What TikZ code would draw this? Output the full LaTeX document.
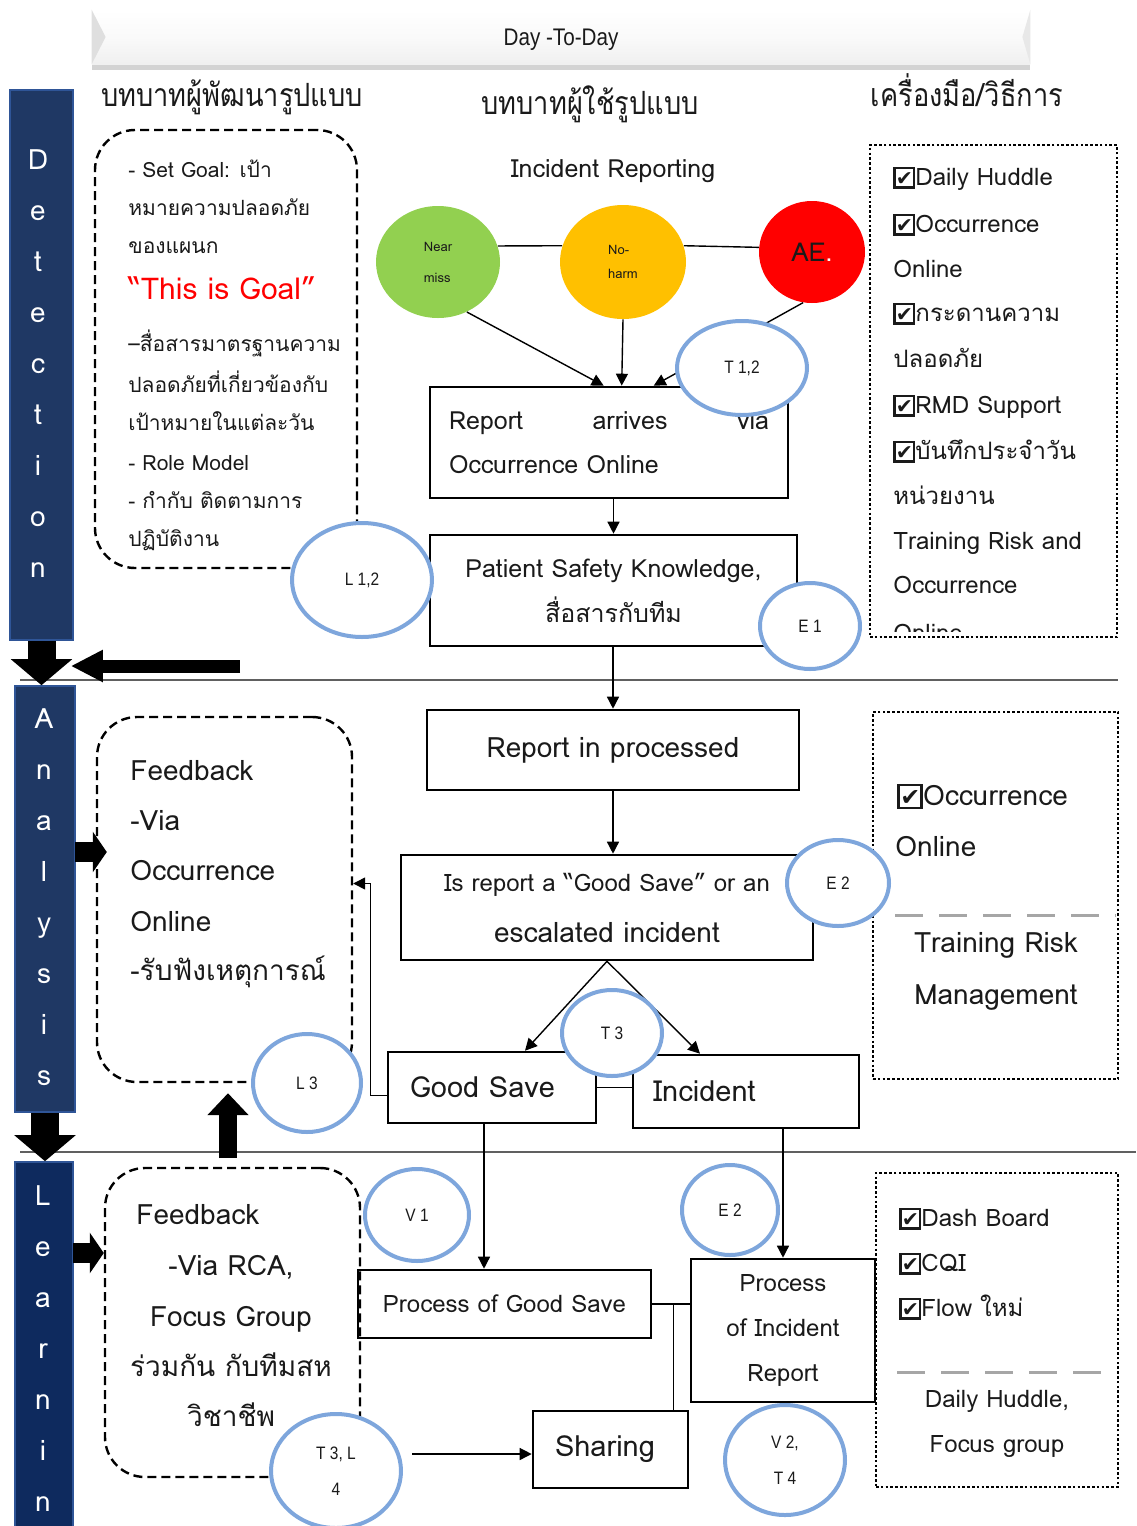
\documentclass[tikz,border=0pt]{standalone}
\usepackage{fontspec}
\setmainfont{Loma}[Script=Thai]
\newfontfamily\symfont{DejaVu Sans}
\newfontfamily\narrowfont{Liberation Sans}[FakeStretch=0.86]
\newfontfamily\titlefont{Loma}[Script=Thai,FakeStretch=0.85]
\usetikzlibrary{arrows.meta,shapes.geometric,shadows,calc}

\definecolor{navy}{HTML}{1F3864}
\definecolor{navydeep}{HTML}{0E2A5E}
\definecolor{navyrim}{HTML}{2F5597}
\definecolor{tagblue}{HTML}{7EA6DC}
\definecolor{nmgreen}{HTML}{92D050}
\definecolor{nhyellow}{HTML}{FFC000}
\definecolor{aered}{HTML}{FF0000}
\definecolor{ink}{HTML}{1A1A1A}

\newcommand{\chk}{{\setlength{\fboxrule}{0.1em}\setlength{\fboxsep}{0pt}%
  \raisebox{-0.05em}{\fbox{\makebox[0.72em]{\rule{0pt}{0.72em}\raisebox{0.04em}{\symfont\scalebox{0.85}{\char"2714}}}}}}}
\newcommand{\fs}[2]{\fontsize{#1}{#2}\selectfont}

\tikzset{
  banner/.style={minimum width=469pt,minimum height=27pt,inner sep=0pt,
    top color=white,bottom color=gray!12,middle color=gray!4,
    drop shadow={shadow xshift=0pt,shadow yshift=-3pt,opacity=.35},
    font=\narrowfont\fs{12}{14}},
  phasebar/.style={fill=navy,draw=navyrim,line width=.8pt,inner sep=0pt},
  barletter/.style={text=white,font=\fs{14}{16},anchor=mid,inner sep=0pt,yshift=-2pt},
  rolebox/.style={draw,line width=1.2pt,dash pattern=on 4.5pt off 2.5pt,rounded corners=20pt,inner sep=0pt},
  toolbox/.style={draw,line width=1.3pt,dash pattern=on 1.3pt off 1.1pt,inner sep=0pt},
  procbox/.style={draw,line width=1.3pt,inner sep=0pt,align=center},
  sevcirc/.style={ellipse,inner sep=0pt,align=left},
  tagcirc/.style={ellipse,draw=tagblue,line width=2pt,fill=white,inner sep=0pt,
    align=center,font=\narrowfont\fs{9}{18}},
  txt/.style={anchor=mid west,inner sep=0pt,yshift=-2pt},
  ctxt/.style={anchor=mid,inner sep=0pt,yshift=-2pt},
  plain/.style={line width=.7pt},
  flow/.style={line width=.7pt,-{Triangle[length=6pt,width=6pt]}},
  fatdown/.style={line width=14pt,-{Triangle[length=13pt,width=30pt]}},
  fatleft/.style={line width=6.5pt,-{Triangle[length=16pt,width=15pt]}},
  fatup/.style={line width=9pt,-{Triangle[length=11pt,width=20pt]}},
  fatside/.style={line width=10pt,-{Triangle[length=7pt,width=20pt]}},
  divider/.style={draw=gray!70,line width=1.5pt,dash pattern=on 14pt off 8pt},
  sepline/.style={draw=gray!75!black,line width=1pt}
}

\begin{document}
\begin{tikzpicture}[x=0.5pt,y=-0.5pt,font=\fs{12}{14},text=ink]
  \useasboundingbox (0,0) rectangle (1136,1526);

  % header strip
  \node[banner] (strip) at (561,37) {\raisebox{-4pt}[0pt][0pt]{Day -To-Day}};
  \fill[gray!25] (strip.north west) -- ($(strip.west)+(14,0)$) -- (strip.south west) -- cycle;
  \fill[gray!18] (strip.north east) -- ($(strip.east)+(-8,0)$) -- (strip.south east) -- cycle;

  % column heads
  \node[ctxt,font=\titlefont\fs{16}{18}] (headdev) at (232,97) {บทบาทผู้พัฒนารูปแบบ};
  \node[ctxt,font=\titlefont\fs{16}{18}] (headuser) at (590,105) {บทบาทผู้ใช้รูปแบบ};
  \node[ctxt,font=\titlefont\fs{16}{18}] (headtool) at (967,97) {เครื่องมือ/วิธีการ};

  \draw[sepline] (20,680) -- (1118,680);
  \draw[sepline] (20,1152) -- (1136,1152);

  % phase bars
  \node[phasebar,minimum width=31.5pt,minimum height=275pt] (det) at (41.5,365) {};
  \node[phasebar,minimum width=30pt,minimum height=213pt] (ana) at (45,899) {};
  \node[phasebar,minimum width=29pt,minimum height=190pt,fill=navydeep] (lea) at (44,1352) {};
  \foreach \c [count=\i] in {D,e,t,e,c,t,i,o,n}
    \node[barletter] (detl\i) at (38,{160+51*(\i-1)}) {\c};
  \foreach \c [count=\i] in {A,n,a,l,y,s,i,s}
    \node[barletter] (anal\i) at (44,{719+51*(\i-1)}) {\c};
  \foreach \c [count=\i] in {L,e,a,r,n,i,n}
    \node[barletter] (leal\i) at (43,{1196+51*(\i-1)}) {\c};

  % role boxes
  \node[rolebox,minimum width=131pt,minimum height=219pt] (goalbox) at (226,349) {};
  \node[rolebox,minimum width=127.5pt,minimum height=182.5pt] (fbana) at (224.5,899.5) {};
  \node[rolebox,minimum width=127.5pt,minimum height=154.5pt] (fblea) at (232.5,1322.5) {};

  \foreach \y/\t [count=\i] in {168/{- Set Goal: เป้า},206/{หมายความปลอดภัย},244/{ของแผนก},
      342/{–สื่อสารมาตรฐานความ},383/{ปลอดภัยที่เกี่ยวข้องกับ},421/{เป้าหมายในแต่ละวัน},
      461/{- Role Model},499/{- กำกับ ติดตามการ},537/{ปฏิบัติงาน}}
    \node[txt,font=\fs{10.5}{12}] (goal\i) at (128,\y) {\t};
  \node[txt,font=\fs{15}{17},text=aered] (goalred) at (128,290) {“This is Goal”};

  \foreach \y/\t [count=\i] in {771/{Feedback},821/{-Via},871/{Occurrence},922/{Online},971/{-รับฟังเหตุการณ์}}
    \node[txt,font=\fs{14}{16}] (fba\i) at (130,\y) {\t};

  \node[txt,font=\fs{14}{16}] (fbl0) at (136,1215) {Feedback};
  \foreach \y/\t [count=\i] in {1266/{-Via RCA,},1317/{Focus Group},1367/{ร่วมกัน กับทีมสห},1417/{วิชาชีพ}}
    \node[ctxt,font=\fs{14}{16}] (fbl\i) at (231,\y) {\t};

  % tool boxes
  \node[toolbox,minimum width=123.5pt,minimum height=246pt] (tb1) at (993.5,391) {};
  \node[toolbox,minimum width=122.5pt,minimum height=183.5pt] (tb2) at (995.5,895.5) {};
  \node[toolbox,minimum width=121pt,minimum height=157pt] (tb3) at (997,1330) {};

  \foreach \y/\t [count=\i] in {176/{\chk Daily Huddle},223/{\chk Occurrence},268/{Online},
      312/{\chk กระดานความ},358/{ปลอดภัย},404/{\chk RMD Support},450/{\chk บันทึกประจำวัน},
      495/{หน่วยงาน},540/{Training Risk and},584/{Occurrence}}
    \node[txt,font=\fs{12}{14}] (tool\i) at (893,\y) {\t};
  \begin{scope}
    \clip (870,600) rectangle (1117,631);
    \node[txt,font=\fs{12}{14}] (tool11) at (893,632) {Online};
  \end{scope}

  \node[txt,font=\fs{14}{16}] (anatool1) at (897,796) {\chk Occurrence};
  \node[txt,font=\fs{14}{16}] (anatool2) at (895,847) {Online};
  \draw[divider] (895,915) -- (1116,915);
  \node[ctxt,font=\fs{14}{16}] (anatool3) at (996,943) {Training Risk};
  \node[ctxt,font=\fs{14}{16}] (anatool4) at (996,995) {Management};

  \foreach \y/\t [count=\i] in {1217/{Dash Board},1262/{CQI},1307/{Flow ใหม่}}
    \node[txt,font=\fs{12}{14}] (leatool\i) at (899,\y) {\chk\t};
  \draw[divider] (897,1372) -- (1116,1372);
  \node[ctxt,font=\fs{12}{14}] (leatool4) at (997,1398) {Daily Huddle,};
  \node[ctxt,font=\fs{12}{14}] (leatool5) at (997,1443) {Focus group};

  % incident levels
  \node[ctxt,font=\fs{12.5}{14}] (increp) at (613,168) {Incident Reporting};
  \node[sevcirc,fill=nmgreen,minimum width=62pt,minimum height=56pt,font=\fs{6.5}{15.5}] (near) at (438,262) {Near\\miss};
  \node[sevcirc,fill=nhyellow,minimum width=63pt,minimum height=57pt,font=\fs{6.5}{12}] (noharm) at (623,262) {No-\\harm};
  \node[sevcirc,fill=aered,minimum width=53pt,minimum height=51pt,font=\fs{13}{15}] (ae) at (812,252) {AE\textcolor{white}{.}};

  % process boxes
  \node[procbox,minimum width=179pt,minimum height=55.5pt,font=\fs{12.5}{22}] (rep) at (609,442.5)
    {\makebox[160pt][s]{Report arrives via}\\\makebox[160pt][l]{Occurrence Online}};
  \node[procbox,minimum width=183.5pt,minimum height=55.5pt,font=\fs{12.5}{22.5}] (psk) at (613.5,590.5)
    {Patient Safety Knowledge,\\สื่อสารกับทีม};
  \node[procbox,minimum width=186pt,minimum height=40pt,font=\fs{14}{16}] (proc) at (613,750) {Report in processed};
  \node[procbox,minimum width=206pt,minimum height=52.5pt,font=\fs{14}{25.5}] (esc) at (607,907.5)
    {{\fs{12}{25.5}Is report a “Good Save” or an}\\escalated incident};
  \node[procbox,minimum width=104pt,minimum height=35.5pt,inner xsep=11pt,text width=82pt,align=left,font=\fs{14.5}{16}] (gsave) at (492,1087.5) {Good Save};
  \node[procbox,minimum width=113pt,minimum height=36.5pt,inner xsep=10pt,text width=93pt,align=left,font=\fs{14.5}{16}] (incid) at (746,1091.5) {Incident};
  \node[procbox,minimum width=146.5pt,minimum height=34pt,font=\fs{12}{14}] (pgs) at (504.5,1304) {Process of Good Save};
  \node[procbox,minimum width=92pt,minimum height=71.5pt,font=\fs{12}{22.5}] (pir) at (783,1330.5) {Process\\of Incident\\Report};
  \node[procbox,minimum width=77.5pt,minimum height=38.5pt,inner xsep=11pt,text width=55.5pt,align=left,font=\fs{14.5}{17}] (shar) at (610.5,1449.5) {Sharing};

  % connectors
  \draw[plain] (near.15) -- (noharm.165);
  \draw[plain] (noharm.15) -- (ae.175);
  \coordinate (in1) at ($(rep.north west)+(175,0)$);
  \coordinate (in2) at ($(rep.north west)+(193,0)$);
  \coordinate (in3) at ($(rep.north west)+(225,0)$);
  \draw[flow] (near.-60) -- (in1);
  \draw[flow] (noharm.south) -- (in2);
  \draw[flow] (ae.-100) -- (in3);
  \draw[flow] (psk.north |- rep.south) -- (psk.north);
  \draw[flow] (proc.north |- psk.south) -- (proc.north);
  \draw[flow] (proc.south) -- (proc.south |- esc.north);
  \draw[flow] (esc.south) -- ($(gsave.north)+(33,0)$);
  \draw[flow] (esc.south) -- ($(incid.north)+(-46,0)$);
  \draw[plain] (gsave.east) -- (gsave.east -| incid.west);
  \draw[flow] ($(gsave.west)+(0,8)$) -- ++(-16,0) |- ($(fbana.east)+(0,-16)$);
  \coordinate (gsout) at ($(gsave.south)+(-8,0)$);
  \draw[flow] (gsout) -- (gsout |- pgs.north);
  \draw[flow] (pir.north |- incid.south) -- (pir.north);
  \coordinate (junc) at ($(pgs.east)+(21,0)$);
  \draw[plain] (pgs.east) -- (pgs.east -| pir.west);
  \draw[plain] (junc) -- (junc |- shar.north);

  % big arrows
  \coordinate (dettail) at (240,666);
  \draw[fatdown] (det.south) -- (det.south |- ana.north);
  \draw[fatleft] (dettail) -- ($(det.east |- dettail)+(-3,0)$);
  \draw[fatdown] (ana.south) -- (ana.south |- lea.north);
  \coordinate (upfoot) at (228,1158);
  \draw[fatup] (upfoot) -- ($(upfoot |- fbana.south)+(0,10)$);
  \coordinate (anaout) at (75,852);
  \draw[fatside] (anaout) -- ($(anaout -| fbana.west)+(11,0)$);
  \coordinate (leaout) at (73,1253);
  \draw[fatside] (leaout) -- ($(leaout -| fblea.west)+(0,0)$);

  % tags
  \node[tagcirc,minimum width=70pt,minimum height=57pt] (lonetwo) at (362,580) {L 1,2};
  \node[tagcirc,minimum width=65pt,minimum height=47pt] (tonetwo) at (742,368) {T 1,2};
  \node[tagcirc,minimum width=50pt,minimum height=43pt] (eone) at (810,626) {E 1};
  \node[tagcirc,minimum width=51pt,minimum height=43pt] (etwo) at (838,883) {E 2};
  \node[tagcirc,minimum width=50pt,minimum height=43pt] (tthree) at (612,1033) {T 3};
  \node[tagcirc,minimum width=54pt,minimum height=49pt] (lthree) at (307,1083) {L 3};
  \node[tagcirc,minimum width=52pt,minimum height=46pt] (vone) at (417,1215) {V 1};
  \node[tagcirc,minimum width=48pt,minimum height=45pt] (etwob) at (730,1210) {E 2};
  \node[tagcirc,minimum width=65pt,minimum height=57pt] (tlfour) at (336,1471) {T 3, L\\4};
  \node[tagcirc,minimum width=60pt,minimum height=55pt] (vtfour) at (785,1460) {V 2,\\T 4};

  \coordinate (tlout) at ($(tlfour.east)+(9,-17)$);
  \draw[flow] (tlout) -- (tlout -| shar.west);
\end{tikzpicture}
\end{document}
